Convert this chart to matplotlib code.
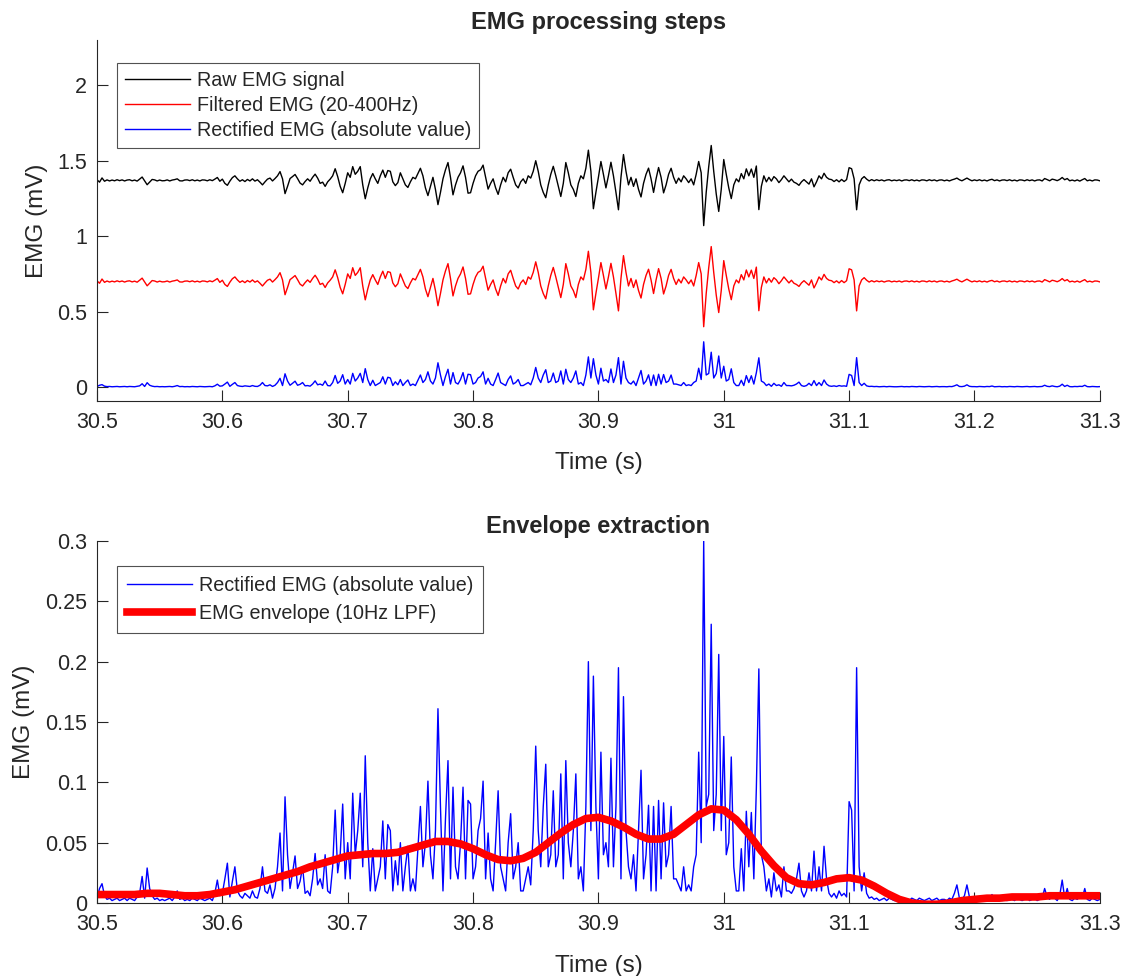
"""
EMG processing figure: raw / filtered / rectified signal and the envelope
"""

# Imports
import matplotlib
matplotlib.use("Agg")
import matplotlib.pyplot as plt
import numpy as np

# Define constants
T_START = 30.5
T_END = 31.3
RAW_OFFSET = 1.37
FILT_OFFSET = 0.70

# Filtered EMG (centred, mV), one value every 2 ms from 30.5 s to 31.3 s
filtered = [
    # 30.50 - 30.598
    0.004, -0.012, 0.016, -0.006, 0.003, -0.004, 0.002, -0.003, 0.004, -0.002,
    0.003, -0.004, 0.002, 0.004, -0.003, 0.002, -0.005, 0.008, 0.022, -0.004,
    -0.029, -0.012, 0.006, 0.003, -0.004, 0.002, -0.003, -0.002, 0.003, -0.004,
    0.002, 0.005, 0.010, -0.003, -0.004, 0.002, 0.003, -0.002, 0.004, -0.003,
    0.002, -0.004, 0.003, 0.002, -0.003, 0.004, -0.002, 0.008, 0.019, -0.006,
    # 30.60 - 30.698
    0.008, -0.020, -0.033, -0.005, 0.018, 0.030, 0.010, -0.006, 0.004, -0.008,
    0.006, -0.004, 0.010, -0.005, 0.004, -0.012, -0.030, -0.010, 0.008, 0.015,
    -0.004, 0.012, 0.030, 0.058, 0.010, -0.088, -0.040, 0.012, 0.025, 0.039,
    0.012, -0.018, -0.030, -0.008, 0.010, -0.006, 0.020, 0.041, 0.015, -0.020,
    -0.012, -0.040, -0.010, 0.008, 0.030, 0.077, 0.025, -0.040, -0.082, -0.020,
    # 30.70 - 30.798
    0.050, 0.020, 0.091, 0.040, 0.060, 0.091, -0.030, -0.122, -0.050, 0.010,
    0.045, 0.010, -0.020, 0.030, 0.068, 0.020, 0.065, 0.060, -0.010, -0.035,
    -0.015, 0.050, 0.010, -0.030, -0.047, -0.010, 0.020, 0.010, 0.045, 0.080,
    0.030, -0.050, -0.101, -0.040, 0.020, -0.060, -0.161, -0.080, 0.010, 0.070,
    0.118, 0.020, -0.096, -0.030, 0.020, 0.050, 0.096, 0.020, -0.085, -0.082,
    # 30.80 - 30.898
    -0.020, 0.030, 0.060, 0.070, 0.101, 0.020, -0.058, -0.020, 0.010, -0.050,
    -0.093, -0.030, 0.020, -0.010, 0.050, 0.074, 0.020, -0.030, -0.050, -0.010,
    0.010, -0.020, 0.030, 0.015, 0.060, 0.130, 0.060, -0.030, -0.080, -0.115,
    -0.030, 0.040, 0.093, 0.030, -0.040, -0.107, -0.020, 0.118, 0.050, -0.030,
    -0.060, -0.107, -0.020, 0.030, 0.010, 0.080, 0.200, 0.060, -0.188, -0.080,
    # 30.90 - 30.998
    0.020, 0.125, 0.040, -0.050, 0.030, 0.120, 0.030, -0.080, -0.195, 0.020,
    0.171, 0.060, -0.030, 0.020, -0.040, 0.010, -0.060, -0.110, -0.020, 0.040,
    0.081, 0.010, -0.080, 0.010, 0.085, 0.020, -0.083, -0.030, 0.040, 0.080,
    0.020, -0.020, 0.015, -0.010, 0.030, 0.010, -0.015, 0.010, -0.030, 0.040,
    0.125, 0.050, -0.300, -0.080, 0.090, 0.231, 0.060, -0.090, -0.206, -0.060,
    # 31.00 - 31.098
    0.138, 0.040, -0.050, -0.121, -0.030, 0.010, -0.010, 0.045, 0.010, 0.076,
    0.030, 0.075, 0.020, 0.095, -0.194, -0.040, 0.030, -0.010, 0.020, -0.005,
    0.025, 0.010, -0.015, 0.005, 0.030, 0.010, -0.010, 0.008, -0.012, -0.020,
    -0.033, -0.010, 0.005, -0.010, -0.025, 0.010, -0.043, -0.010, 0.030, 0.010,
    0.047, 0.020, 0.008, 0.005, -0.008, 0.004, -0.010, 0.006, -0.008, 0.005,
    # 31.10 - 31.198
    0.084, 0.077, 0.010, -0.195, -0.030, 0.010, 0.025, 0.008, -0.004, 0.005,
    -0.003, 0.004, -0.002, 0.003, -0.004, 0.002, 0.004, -0.003, 0.002, -0.002,
    0.003, -0.004, 0.002, 0.003, -0.002, 0.004, -0.003, 0.002, -0.004, 0.003,
    0.002, -0.003, 0.004, -0.002, 0.003, -0.004, 0.002, 0.003, -0.003, 0.002,
    -0.004, 0.003, 0.008, 0.015, 0.004, -0.003, 0.006, 0.015, 0.005, -0.003,
    # 31.20 - 31.30
    0.003, -0.002, 0.004, -0.003, 0.002, -0.004, 0.003, 0.007, -0.002, 0.003,
    -0.004, 0.002, 0.003, -0.002, 0.004, -0.003, 0.002, -0.004, 0.003, 0.002,
    -0.003, 0.004, -0.002, 0.003, -0.004, 0.002, 0.003, -0.004, 0.012, 0.005,
    -0.003, 0.008, 0.004, -0.002, 0.006, 0.019, 0.004, 0.012, -0.003, 0.002,
    -0.004, 0.003, -0.005, 0.004, 0.012, -0.003, 0.002, -0.004, 0.003, 0.002,
    -0.003,
]

# EMG envelope (10Hz LPF), one value every 10 ms
envelope = [
    0.007, 0.007, 0.007, 0.007, 0.008, 0.008, 0.007, 0.006, 0.006, 0.007,
    0.009, 0.011, 0.014, 0.017, 0.020, 0.023, 0.026, 0.030, 0.033, 0.036,
    0.039, 0.040, 0.041, 0.041, 0.042, 0.045, 0.048, 0.051, 0.051, 0.049,
    0.045, 0.040, 0.036, 0.035, 0.037, 0.042, 0.050, 0.058, 0.065, 0.070,
    0.071, 0.068, 0.063, 0.057, 0.053, 0.053, 0.057, 0.065, 0.073, 0.078,
    0.077, 0.069, 0.057, 0.043, 0.031, 0.021, 0.016, 0.015, 0.017, 0.020,
    0.021, 0.019, 0.014, 0.008, 0.003, 0.000, -0.001, -0.001, 0.000, 0.002,
    0.003, 0.004, 0.004, 0.005, 0.005, 0.005, 0.006, 0.006, 0.006, 0.006,
    0.006,
]

x_ticks = [30.5, 30.6, 30.7, 30.8, 30.9, 31.0, 31.1, 31.2, 31.3]
x_tick_labels = ["30.5", "30.6", "30.7", "30.8", "30.9", "31", "31.1", "31.2", "31.3"]
top_y_ticks = [0, 0.5, 1, 1.5, 2]
top_y_labels = ["0", "0.5", "1", "1.5", "2"]
bottom_y_ticks = [0, 0.05, 0.1, 0.15, 0.2, 0.25, 0.3]
bottom_y_labels = ["0", "0.05", "0.1", "0.15", "0.2", "0.25", "0.3"]

# Build signals
filt = np.array(filtered)
rect = np.abs(filt)
t_sig = np.linspace(T_START, T_END, len(filt))
t_env = np.linspace(T_START, T_END, len(envelope))

AX_COLOR = "#262626"
plt.rcParams["font.family"] = ["Liberation Sans", "DejaVu Sans"]
plt.rcParams["text.color"] = AX_COLOR
plt.rcParams["axes.labelcolor"] = AX_COLOR
plt.rcParams["xtick.color"] = AX_COLOR
plt.rcParams["ytick.color"] = AX_COLOR


def style_axes(ax, yticks, ylabels):
    ax.set_xlim(T_START, T_END)
    ax.set_xticks(x_ticks)
    ax.set_xticklabels(x_tick_labels)
    ax.set_yticks(yticks)
    ax.set_yticklabels(ylabels)
    ax.tick_params(direction="in", length=8, width=0.8, labelsize=15.5)
    ax.tick_params(axis="x", pad=8)
    ax.tick_params(axis="y", pad=7)
    ax.spines["top"].set_visible(False)
    ax.spines["right"].set_visible(False)
    for side in ("left", "bottom"):
        ax.spines[side].set_color(AX_COLOR)
        ax.spines[side].set_linewidth(0.8)
    ax.set_xlabel("Time (s)", fontsize=17.5, labelpad=14)
    ax.set_ylabel("EMG (mV)", fontsize=17.5, labelpad=7)


def style_legend(leg):
    leg.get_frame().set_edgecolor(AX_COLOR)
    leg.get_frame().set_linewidth(0.8)


fig = plt.figure(figsize=(11.28, 9.76), dpi=100)
ax1 = fig.add_axes([0.086, 0.5895, 0.889, 0.3695])
ax2 = fig.add_axes([0.086, 0.0748, 0.889, 0.3709])

LEG_KW = dict(loc="upper left", fontsize=14.2, frameon=True, fancybox=False,
              handlelength=3.3, borderpad=0.4, labelspacing=0.3,
              handletextpad=0.35, borderaxespad=0)

# Top graph
ax1.plot(t_sig, filt + RAW_OFFSET, color="black", lw=1.0, label="Raw EMG signal")
ax1.plot(t_sig, filt + FILT_OFFSET, color="red", lw=1.0, label="Filtered EMG (20-400Hz)")
ax1.plot(t_sig, rect, color="blue", lw=1.0, label="Rectified EMG (absolute value)")
ax1.set_ylim(-0.09, 2.3)
style_axes(ax1, top_y_ticks, top_y_labels)
ax1.set_title("EMG processing steps", fontsize=17, fontweight="bold", pad=8)
style_legend(ax1.legend(bbox_to_anchor=(0.02, 0.936), **LEG_KW))

# Bottom graph
ax2.plot(t_sig, rect, color="blue", lw=1.0, label="Rectified EMG (absolute value)")
ax2.plot(t_env, envelope, color="red", lw=5.5, label="EMG envelope (10Hz LPF)")
ax2.set_ylim(0, 0.3)
style_axes(ax2, bottom_y_ticks, bottom_y_labels)
ax2.set_title("Envelope extraction", fontsize=17, fontweight="bold", pad=6)
LEG_KW["labelspacing"] = 0.45
LEG_KW["borderpad"] = 0.5
style_legend(ax2.legend(bbox_to_anchor=(0.02, 0.931), **LEG_KW))

fig.savefig("out.png", dpi=100)
